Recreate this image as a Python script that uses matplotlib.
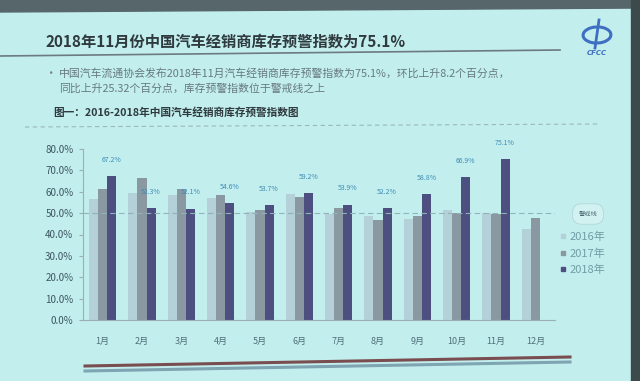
import numpy as np
import matplotlib.pyplot as plt
from matplotlib.lines import Line2D
from matplotlib.patches import Polygon, Ellipse, Rectangle

plt.rcParams['font.family'] = ['Noto Sans CJK SC', 'DejaVu Sans']

months = ['1月', '2月', '3月', '4月', '5月', '6月', '7月', '8月', '9月', '10月', '11月', '12月']
years = ['2016年', '2017年', '2018年']
v2016 = [56.5, 59.4, 58.7, 57.3, 50.4, 59.0, 49.7, 48.5, 47.2, 51.3, 50.0, 42.7]
v2017 = [61.2, 66.3, 61.5, 58.7, 51.5, 57.4, 52.5, 47.0, 48.5, 50.0, 49.7, 47.5]
v2018 = [67.2, 52.3, 52.1, 54.6, 53.7, 59.2, 53.9, 52.2, 58.8, 66.9, 75.1]
warn_line = 50.0
yticks = [0, 10, 20, 30, 40, 50, 60, 70, 80]

bg = '#c3eeee'
colors = ['#b4d0d8', '#8a98a2', '#4c4f80']
W, H = 640, 381

fig = plt.figure(figsize=(6.4, 3.81), dpi=100, facecolor=bg)

# slide decorations
fig.patches.append(Polygon([[0, 1], [1, 1], [1, 1 - 8 / H], [0, 1 - 12 / H]],
                           closed=True, transform=fig.transFigure, color='#56666a'))
fig.patches.append(Rectangle((631 / W, 0), 9 / W, 1, transform=fig.transFigure, color='#3c4a4c'))
fig.add_artist(Line2D([0, 560 / W], [1 - 56 / H, 1 - 50 / H], color='#6b7b80', lw=1.2))
fig.add_artist(Line2D([25 / W, 600 / W], [1 - 127 / H, 1 - 124 / H], color='#9ab8bc', lw=0.8, ls=(0, (4, 3))))
fig.add_artist(Line2D([85 / W, 570 / W], [1 - 366 / H, 1 - 357 / H], color='#7a4e50', lw=2.2))
fig.add_artist(Line2D([85 / W, 570 / W], [1 - 371 / H, 1 - 362 / H], color='#7fa4b2', lw=2.2))

fig.text(45 / W, 1 - 42 / H, '2018年11月份中国汽车经销商库存预警指数为75.1%',
         fontsize=11, fontweight='bold', color='#2e3a3e', va='center')
fig.text(50 / W, 1 - 73 / H, '•', fontsize=9, color='#7a8a90', va='center', ha='center')
fig.text(59 / W, 1 - 73 / H, '中国汽车流通协会发布2018年11月汽车经销商库存预警指数为75.1%，环比上升8.2个百分点，',
         fontsize=7.8, color='#667a80', va='center')
fig.text(59 / W, 1 - 89 / H, '同比上升25.32个百分点，库存预警指数位于警戒线之上',
         fontsize=7.8, color='#667a80', va='center')
fig.text(53 / W, 1 - 113 / H, '图一：2016-2018年中国汽车经销商库存预警指数图',
         fontsize=7.7, fontweight='bold', color='#2e3a3e', va='center')

# logo
fig.patches.append(Ellipse((597 / W, 1 - 35 / H), 28 / W, 16 / H, angle=25,
                           transform=fig.transFigure, fill=False, ec='#3f6fc0', lw=2.2))
fig.add_artist(Line2D([595 / W, 599 / W], [1 - 48 / H, 1 - 20 / H], color='#3f6fc0', lw=2))
fig.text(597 / W, 1 - 53 / H, 'CFCC', fontsize=5, color='#3f6fc0', ha='center', va='center',
         fontweight='bold', style='italic', family=['DejaVu Sans'])

ax = fig.add_axes([83 / W, 1 - 320 / H, (555 - 83) / W, (320 - 149) / H])
ax.set_facecolor(bg)

x = np.arange(len(months))
bw = 0.23
ax.bar(x - bw, v2016, bw, color=colors[0], label=years[0])
ax.bar(x, v2017, bw, color=colors[1], label=years[1])
ax.bar(x[:len(v2018)] + bw, v2018, bw, color=colors[2], label=years[2])

for xi, v in zip(x[:len(v2018)] + bw, v2018):
    ax.annotate('%.1f%%' % v, (xi, v), xytext=(0, 9), textcoords='offset points',
                ha='center', va='bottom', fontsize=5, color='#3d8db5')

ax.axhline(warn_line, color='#8fb4b8', lw=0.8, ls=(0, (5, 3)))

ax.set_xlim(-0.5, 11.5)
ax.set_ylim(0, 80)
ax.set_yticks(yticks)
ax.set_yticklabels(['%.1f%%' % t for t in yticks], fontsize=7, color='#3b5560')
ax.set_xticks(x)
ax.set_xticklabels(months, fontsize=6.5, color='#4f6f78')
ax.tick_params(axis='x', length=0, pad=12)
ax.tick_params(axis='y', length=3, color='#9ab0b4', pad=4)
for s in ['top', 'right']:
    ax.spines[s].set_visible(False)
ax.spines['left'].set_color('#9ab0b4')
ax.spines['bottom'].set_color('#9ab0b4')

# legend
fig.text(588 / W, 1 - 214 / H, '警戒线', fontsize=4.5, color='#4a6a74', ha='center', va='center',
         bbox=dict(boxstyle='round,pad=1.0,rounding_size=1.5', fc='#d2f2f2', ec='#b2d6da', lw=0.6))
handles = [Line2D([], [], ls='', marker='s', markersize=3.5, color=c) for c in colors]
leg = fig.legend(handles, years, loc='upper left', bbox_to_anchor=(550 / W, 1 - 222 / H),
                 frameon=False, fontsize=8, handlelength=0.6, handletextpad=0.3,
                 labelspacing=0.55, labelcolor='#6f9ea6')

fig.savefig('out.png', dpi=100, facecolor=bg)
